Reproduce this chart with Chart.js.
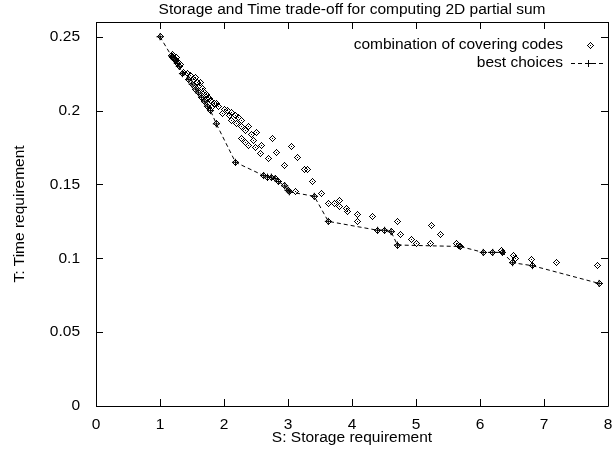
<html>
  <head>
    <style>
      body { margin: 0; background: #fff; }
      #wrap { width: 613px; height: 450px; overflow: hidden; }
    </style>
  </head>
  <body>
    <div id="wrap"><canvas id="myChart" width="613" height="450"></canvas></div>

    <script src="https://cdn.jsdelivr.net/npm/chart.js"></script>

    <script>
      // best choices (the dashed lower envelope)
      var bestS = [1.00, 1.18, 1.20, 1.22, 1.24, 1.27, 1.30, 1.35, 1.45, 1.50, 1.56, 1.60, 1.65, 1.70, 1.74, 1.79, 1.88,
                   2.18, 2.62, 2.68, 2.74, 2.80, 2.85, 2.95, 3.00, 3.02, 3.41, 3.63, 4.40, 4.51, 4.61, 4.71,
                   5.69, 6.05, 6.20, 6.35, 6.51, 6.82, 7.86];
      var bestT = [0.250, 0.237, 0.236, 0.235, 0.234, 0.232, 0.230, 0.225, 0.221, 0.218, 0.2146, 0.212, 0.209, 0.206, 0.203, 0.200, 0.191,
                   0.165, 0.156, 0.155, 0.155, 0.154, 0.152, 0.149, 0.146, 0.145, 0.142, 0.125, 0.119, 0.119, 0.118, 0.109,
                   0.108, 0.104, 0.104, 0.104, 0.097, 0.095, 0.083];

      // other combinations of covering codes (not on the envelope)
      var coverS = [1.19, 1.25, 1.28, 1.32, 1.37, 1.43, 1.48, 1.52, 1.56, 1.58, 1.61, 1.63, 1.66, 1.68, 1.70, 1.72, 1.75, 1.77,
                    1.79, 1.81, 1.85, 1.89, 1.92, 1.97, 2.00, 2.05, 2.08, 2.11, 2.12, 2.18, 2.20, 2.23, 2.28, 2.28, 2.33, 2.38,
                    2.43, 2.51, 2.28, 2.33, 2.38, 2.46, 2.49, 2.59, 2.57, 2.75, 2.82, 2.70, 3.06, 3.15, 2.95, 3.26, 3.30, 3.38,
                    3.52, 3.11, 3.63, 3.73, 3.80, 3.81, 3.91, 3.93, 4.08, 4.08, 4.32, 4.71, 4.75, 4.93, 5.00, 5.22, 5.24, 5.39,
                    5.63, 5.67, 6.34, 6.52, 6.55, 6.80, 7.19, 7.84];
      var coverT = [0.238, 0.236, 0.233, 0.231, 0.226, 0.225, 0.224, 0.221, 0.2225, 0.219, 0.217, 0.219, 0.215, 0.213, 0.212, 0.211, 0.209, 0.208,
                    0.207, 0.202, 0.205, 0.2045, 0.203, 0.198, 0.201, 0.200, 0.197, 0.193, 0.199, 0.197, 0.191, 0.1955, 0.193, 0.189, 0.1865, 0.189,
                    0.184, 0.185, 0.181, 0.1786, 0.1764, 0.180, 0.175, 0.1764, 0.1707, 0.1813, 0.1718, 0.1673, 0.176, 0.168, 0.163, 0.160, 0.160, 0.152,
                    0.144, 0.1455, 0.137, 0.137, 0.139, 0.135, 0.134, 0.132, 0.130, 0.125, 0.128, 0.125, 0.116, 0.113, 0.110, 0.110, 0.122, 0.116,
                    0.110, 0.109, 0.1054, 0.102, 0.100, 0.099, 0.097, 0.095];

      var xTicks = [0, 1, 2, 3, 4, 5, 6, 7, 8];
      var yTicks = [0, 0.05, 0.1, 0.15, 0.2, 0.25];

      var FONT = "'Liberation Sans', Arial, sans-serif";
      var FS = 15.5;

      function toPoints(xs, ys) {
        return xs.map((x, i) => ({ x: x, y: ys[i] }));
      }

      // gnuplot style diamond with a dot in the middle, set pixel by pixel
      function makeDiamond() {
        var c = document.createElement("canvas");
        c.width = 7;
        c.height = 7;
        var g = c.getContext("2d");
        g.fillStyle = "#000";
        for (var d = -3; d <= 3; d++) {
          var w = 3 - Math.abs(d);
          g.fillRect(3 - w, 3 + d, 1, 1);
          g.fillRect(3 + w, 3 + d, 1, 1);
        }
        g.fillRect(3, 3, 1, 1);
        return c;
      }
      var diamond = makeDiamond();

      // frame with inward ticks on all four sides, like gnuplot
      var framePlugin = {
        id: "frame",
        beforeDatasetsDraw(chart) {
          var ctx = chart.ctx;
          var a = chart.chartArea;
          var xs = chart.scales.x, ys = chart.scales.y;
          var L = 7;
          ctx.save();
          ctx.strokeStyle = "#000";
          ctx.lineWidth = 1;
          ctx.beginPath();
          ctx.rect(a.left + 0.5, a.top + 0.5, a.right - a.left, a.bottom - a.top);
          for (var v of xTicks) {
            var px = Math.round(xs.getPixelForValue(v)) + 0.5;
            ctx.moveTo(px, a.bottom);
            ctx.lineTo(px, a.bottom - L);
            ctx.moveTo(px, a.top);
            ctx.lineTo(px, a.top + L);
          }
          for (var v of yTicks) {
            var py = Math.round(ys.getPixelForValue(v)) + 0.5;
            ctx.moveTo(a.left, py);
            ctx.lineTo(a.left + L, py);
            ctx.moveTo(a.right, py);
            ctx.lineTo(a.right - L, py);
          }
          ctx.stroke();
          ctx.restore();
          // keep the diamond images crisp
          ctx.imageSmoothingEnabled = false;
        },
        afterDatasetsDraw(chart) {
          chart.ctx.imageSmoothingEnabled = true;
        },
        afterDraw(chart) {
          // key in the top right corner, text left of the sample
          var ctx = chart.ctx;
          ctx.save();
          ctx.font = FS + "px " + FONT;
          ctx.fillStyle = "#000";
          ctx.textAlign = "right";
          ctx.textBaseline = "middle";
          ctx.fillText(chart.data.datasets[0].label, 563, 45);
          ctx.fillText(chart.data.datasets[1].label, 563, 63);
          ctx.drawImage(diamond, 587, 42);
          ctx.strokeStyle = "#000";
          ctx.lineWidth = 1;
          ctx.setLineDash([4, 3]);
          ctx.beginPath();
          ctx.moveTo(571, 63.5);
          ctx.lineTo(606, 63.5);
          ctx.stroke();
          ctx.setLineDash([]);
          ctx.beginPath();
          ctx.moveTo(588.5, 60);
          ctx.lineTo(588.5, 67);
          ctx.moveTo(585, 63.5);
          ctx.lineTo(592, 63.5);
          ctx.stroke();
          ctx.restore();
        },
      };

      var config = {
        type: "scatter",
        data: {
          datasets: [
            {
              label: "combination of covering codes",
              data: toPoints(coverS.concat(bestS), coverT.concat(bestT)),
              pointStyle: diamond,
              pointRadius: 3.5,
              showLine: false,
            },
            {
              label: "best choices",
              data: toPoints(bestS, bestT),
              showLine: true,
              borderColor: "#000",
              borderWidth: 1,
              borderDash: [4, 3],
              tension: 0,
              pointStyle: "cross",
              pointRadius: 3.5,
              pointBorderColor: "#000",
              pointBorderWidth: 1,
              pointBackgroundColor: "#000",
            },
          ],
        },
        options: {
          responsive: false,
          animation: false,
          events: [],
          layout: { padding: { top: 0, right: 2, bottom: 0, left: 0 } },
          plugins: {
            legend: { display: false },
            tooltip: { enabled: false },
            title: {
              display: true,
              text: "Storage and Time trade-off for computing 2D partial sum",
              fullSize: false,
              color: "#000",
              font: { family: FONT, size: FS, weight: "normal", lineHeight: 1.2 },
              padding: { top: 0, bottom: 3.4 },
            },
          },
          scales: {
            x: {
              type: "linear",
              min: 0,
              max: 8,
              grid: { display: false },
              border: { display: false },
              ticks: {
                stepSize: 1,
                padding: 1,
                color: "#000",
                font: { family: FONT, size: FS },
                maxRotation: 0,
              },
              title: {
                display: true,
                text: "S: Storage requirement",
                color: "#000",
                font: { family: FONT, size: FS },
                padding: { top: 0, bottom: 3 },
              },
              afterFit(scale) {
                scale.height = 44;
                scale.paddingRight = 0;
              },
            },
            y: {
              type: "linear",
              min: 0,
              max: 0.26,
              grid: { display: false },
              border: { display: false },
              ticks: {
                stepSize: 0.05,
                includeBounds: false,
                padding: 8,
                color: "#000",
                font: { family: FONT, size: FS },
                callback: (v) => String(Number(v.toFixed(2))),
              },
              title: {
                display: true,
                text: "T: Time requirement",
                color: "#000",
                font: { family: FONT, size: FS },
                padding: { top: 10, bottom: 0 },
              },
              afterFit(scale) {
                scale.width = 96;
              },
            },
          },
        },
        plugins: [framePlugin],
      };

      const myChart = new Chart(document.getElementById("myChart"), config);
    </script>
  </body>
</html>
